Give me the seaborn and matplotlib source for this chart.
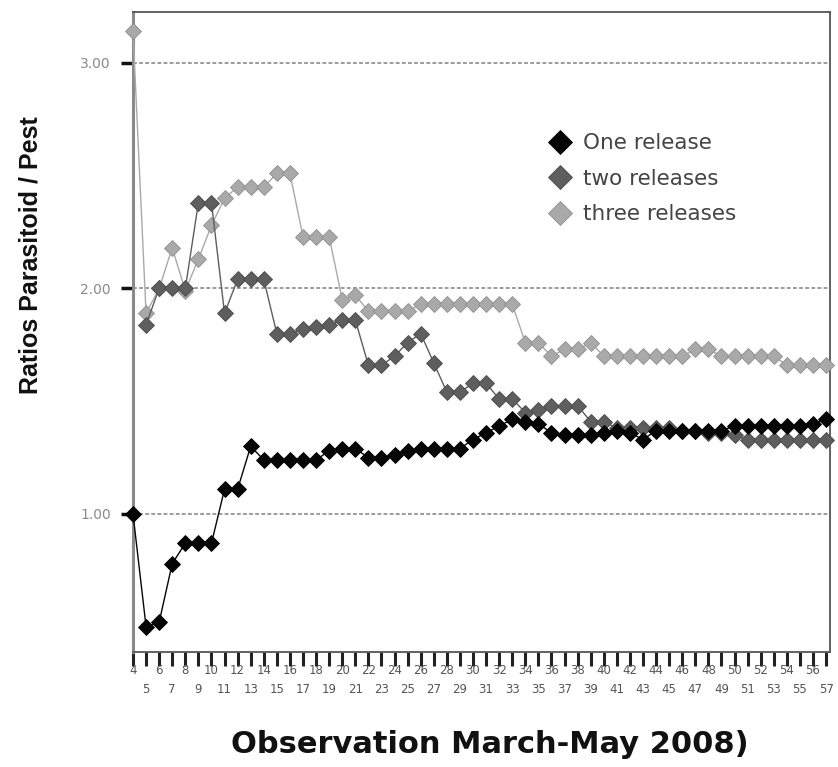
import numpy as np
import pandas as pd
import matplotlib
matplotlib.use("Agg")
import matplotlib.pyplot as plt
import seaborn as sns
from matplotlib.lines import Line2D

# ---------------- data ----------------
observations = list(range(4, 58))

one_release = [
    1.00, 0.50, 0.52, 0.78, 0.87, 0.87, 0.87, 1.11, 1.11, 1.30,
    1.24, 1.24, 1.24, 1.24, 1.24, 1.28, 1.29, 1.29, 1.25, 1.25,
    1.26, 1.28, 1.29, 1.29, 1.29, 1.29, 1.33, 1.36, 1.39, 1.42,
    1.41, 1.40, 1.36, 1.35, 1.35, 1.35, 1.36, 1.37, 1.36, 1.33,
    1.37, 1.37, 1.37, 1.37, 1.37, 1.37, 1.39, 1.39, 1.39, 1.39,
    1.39, 1.39, 1.40, 1.42,
]

two_releases = [
    np.nan, 1.84, 2.00, 2.00, 2.00, 2.38, 2.38, 1.89, 2.04, 2.04,
    2.04, 1.80, 1.80, 1.82, 1.83, 1.84, 1.86, 1.86, 1.66, 1.66,
    1.70, 1.76, 1.80, 1.67, 1.54, 1.54, 1.58, 1.58, 1.51, 1.51,
    1.45, 1.46, 1.48, 1.48, 1.48, 1.41, 1.41, 1.38, 1.38, 1.38,
    1.38, 1.38, 1.37, 1.37, 1.36, 1.36, 1.35, 1.33, 1.33, 1.33,
    1.33, 1.33, 1.33, 1.33,
]

three_releases = [
    3.14, 1.89, 2.00, 2.18, 1.99, 2.13, 2.28, 2.40, 2.45, 2.45,
    2.45, 2.51, 2.51, 2.23, 2.23, 2.23, 1.95, 1.97, 1.90, 1.90,
    1.90, 1.90, 1.93, 1.93, 1.93, 1.93, 1.93, 1.93, 1.93, 1.93,
    1.76, 1.76, 1.70, 1.73, 1.73, 1.76, 1.70, 1.70, 1.70, 1.70,
    1.70, 1.70, 1.70, 1.73, 1.73, 1.70, 1.70, 1.70, 1.70, 1.70,
    1.66, 1.66, 1.66, 1.66,
]

series_names = ["One release", "two releases", "three releases"]
y_ticks = [1.0, 2.0, 3.0]
y_tick_labels = ["1.00", "2.00", "3.00"]
x_label = "Observation March-May 2008)"
y_label = "Ratios Parasitoid / Pest"

# ---------------- styling ----------------
colors = {"One release": "#050505", "two releases": "#5e5e5e", "three releases": "#a9a9a9"}
edges = {"One release": "#000000", "two releases": "#4a4a4a", "three releases": "#8f8f8f"}

sns.set_theme(style="white")
plt.rcParams["font.family"] = ["DejaVu Sans"]

positions = list(range(len(observations)))
df = pd.DataFrame({
    "pos": positions * 3,
    "obs": observations * 3,
    "value": one_release + two_releases + three_releases,
    "series": [n for n in series_names for _ in observations],
})

fig = plt.figure(figsize=(8.38, 7.67), dpi=100)
fig.patch.set_facecolor("white")
ax = fig.add_axes([133 / 838, 1 - 652 / 767, (830 - 133) / 838, (652 - 12) / 767])

draw_order = ["three releases", "two releases", "One release"]
for name in draw_order:
    sub = df[df["series"] == name].dropna()
    sns.lineplot(
        data=sub, x="pos", y="value", ax=ax, color=colors[name],
        marker="D", markersize=7.8, markeredgecolor=edges[name], markeredgewidth=0.6,
        linewidth=1.0, legend=False, estimator=None, sort=False,
    )
for ln in ax.get_lines():
    ln.set_clip_on(False)
    ln.set_zorder(3)

ax.set_xlim(0, len(observations) - 1 + 0.3)
ax.set_ylim(0.388, 3.226)

# grid
ax.yaxis.grid(True, linestyle=(0, (2.5, 1.5)), color="#808080", linewidth=1.1)
ax.xaxis.grid(False)
ax.set_axisbelow(True)

# spines
for side in ["top", "right", "bottom"]:
    ax.spines[side].set_visible(True)
    ax.spines[side].set_color("#555555")
    ax.spines[side].set_linewidth(1.3)
ax.spines["left"].set_color("#8a8a8a")
ax.spines["left"].set_linewidth(2.2)

# ticks
ax.set_yticks(y_ticks)
ax.set_yticklabels(y_tick_labels)
ax.tick_params(axis="y", left=True, direction="out", length=9, width=2.5,
               color="#111111", labelsize=10, labelcolor="#8a8a8a", pad=7)

even_pos = [p for p, o in zip(positions, observations) if o % 2 == 0]
odd_pos = [p for p, o in zip(positions, observations) if o % 2 == 1]
ax.set_xticks(even_pos)
ax.set_xticklabels([str(o) for o in observations if o % 2 == 0])
ax.set_xticks(odd_pos, minor=True)
ax.set_xticklabels([str(o) for o in observations if o % 2 == 1], minor=True)
ax.tick_params(axis="x", which="both", bottom=True, direction="out", length=10, width=2.2,
               color="#222222", labelsize=8.5, labelcolor="#555555")
ax.tick_params(axis="x", which="major", pad=-1)
ax.tick_params(axis="x", which="minor", pad=12)

ax.set_xlabel(x_label, fontsize=22, fontweight="bold", color="#111111")
ax.xaxis.set_label_coords(0.512, -0.122)
ax.set_ylabel(y_label, fontsize=18, fontweight="bold", color="#111111",
              family=["Liberation Sans", "DejaVu Sans"])
ax.yaxis.set_label_coords(-0.13, 0.62)

# legend
handles = [
    Line2D([], [], linestyle="none", marker="D", markersize=12,
           markerfacecolor=colors[n], markeredgecolor=edges[n], markeredgewidth=0.6)
    for n in series_names
]
leg = ax.legend(handles, series_names, loc="upper left", bbox_to_anchor=(0.571, 0.834),
                frameon=False, fontsize=15.5, labelspacing=0.72, handletextpad=0.4,
                handlelength=1.3, borderpad=0.2)
for t in leg.get_texts():
    t.set_color("#444444")

fig.savefig("out.png", dpi=100, facecolor="white")
